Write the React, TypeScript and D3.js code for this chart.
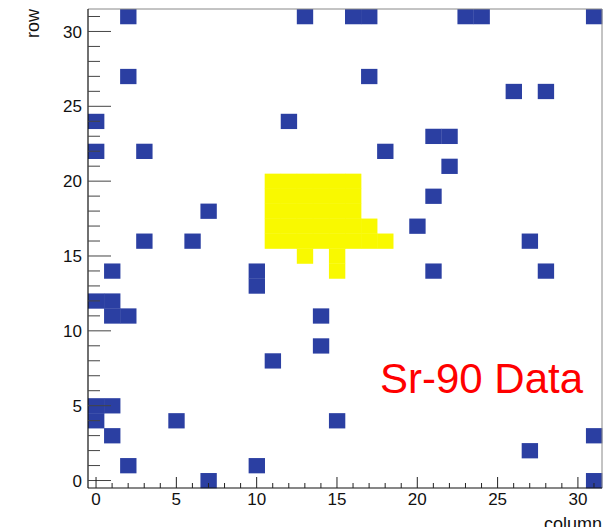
import React from 'react';
import * as d3 from 'd3';

// occupied pixels with a single hit (column, row)
const lowHits: [number, number][] = [
  [2, 31], [13, 31], [16, 31], [17, 31], [23, 31], [24, 31], [31, 31],
  [2, 27], [17, 27],
  [26, 26], [28, 26],
  [0, 24], [12, 24],
  [21, 23], [22, 23],
  [0, 22], [3, 22], [18, 22],
  [22, 21],
  [21, 19],
  [7, 18],
  [20, 17],
  [3, 16], [6, 16], [27, 16],
  [1, 14], [10, 14], [21, 14], [28, 14],
  [10, 13],
  [0, 12], [1, 12],
  [1, 11], [2, 11], [14, 11],
  [14, 9],
  [11, 8],
  [0, 5], [1, 5],
  [0, 4], [5, 4], [15, 4],
  [1, 3], [31, 3],
  [27, 2],
  [2, 1], [10, 1],
  [7, 0], [31, 0],
];

// the hot spot where the source sits
const hotHits: [number, number][] = [
  [11, 20], [12, 20], [13, 20], [14, 20], [15, 20], [16, 20],
  [11, 19], [12, 19], [13, 19], [14, 19], [15, 19], [16, 19],
  [11, 18], [12, 18], [13, 18], [14, 18], [15, 18], [16, 18],
  [11, 17], [12, 17], [13, 17], [14, 17], [15, 17], [16, 17], [17, 17],
  [11, 16], [12, 16], [13, 16], [14, 16], [15, 16], [16, 16], [17, 16], [18, 16],
  [13, 15], [15, 15],
  [15, 14],
];

const majorTicks = [0, 5, 10, 15, 20, 25, 30];
const minorTicks = d3.range(0, 32);

const W = 616;
const H = 527;
const left = 88, right = 602, top = 9, bottom = 488;

export default function App() {
  const x = d3.scaleLinear().domain([-0.5, 31.5]).range([left, right]);
  const y = d3.scaleLinear().domain([-0.5, 31.5]).range([bottom, top]);
  const cw = x(1) - x(0);
  const ch = y(0) - y(1);
  const font = 'Liberation Sans, Arial, Helvetica, sans-serif';

  const cell = (d: [number, number], fill: string, k: string) => (
    <rect key={k} x={x(d[0] - 0.5)} y={y(d[1] + 0.5)} width={cw + 0.3} height={ch + 0.3} fill={fill} />
  );

  return (
    <div style={{ position: 'fixed', left: 0, top: 0 }}>
      <svg width={W} height={H} style={{ display: 'block', background: '#fff' }} fontFamily={font}>
        <rect x={0} y={0} width={W} height={H} fill="#fff" />
        {lowHits.map((d, i) => cell(d, '#2b3fa2', 'l' + i))}
        {hotHits.map((d, i) => cell(d, '#f9f900', 'h' + i))}

        {/* frame */}
        <line x1={left} x2={right} y1={top} y2={top} stroke="#888" strokeWidth={1} />
        <line x1={right} x2={right} y1={top} y2={bottom} stroke="#888" strokeWidth={1} />

        {/* y axis */}
        <line x1={left} x2={left} y1={top} y2={bottom} stroke="#111" strokeWidth={1.2} />
        {minorTicks.map(t => (
          <line key={'ym' + t} x1={left} x2={left + (t % 5 === 0 ? 23 : 12)} y1={y(t)} y2={y(t)} stroke="#444" strokeWidth={1} />
        ))}
        {majorTicks.map(t => (
          <text key={'yl' + t} x={82} y={y(t)} dy="0.36em" textAnchor="end" fontSize={17} fill="#111">{t}</text>
        ))}
        <text transform={`translate(39,9) rotate(-90)`} textAnchor="end" fontSize={18} fill="#111">row</text>

        {/* x axis */}
        <line x1={left} x2={right} y1={bottom} y2={bottom} stroke="#111" strokeWidth={1.2} />
        {minorTicks.map(t => (
          <line key={'xm' + t} x1={x(t)} x2={x(t)} y1={bottom} y2={bottom - (t % 5 === 0 ? 11 : 5)} stroke="#222" strokeWidth={1} />
        ))}
        {majorTicks.map(t => (
          <text key={'xl' + t} x={x(t)} y={505} textAnchor="middle" fontSize={17} fill="#111">{t}</text>
        ))}
        <text x={602} y={530} textAnchor="end" fontSize={18} fill="#111">column</text>

        <text x={380} y={393} fontSize={42} fill="#ff0000">Sr-90 Data</text>
      </svg>
    </div>
  );
}
